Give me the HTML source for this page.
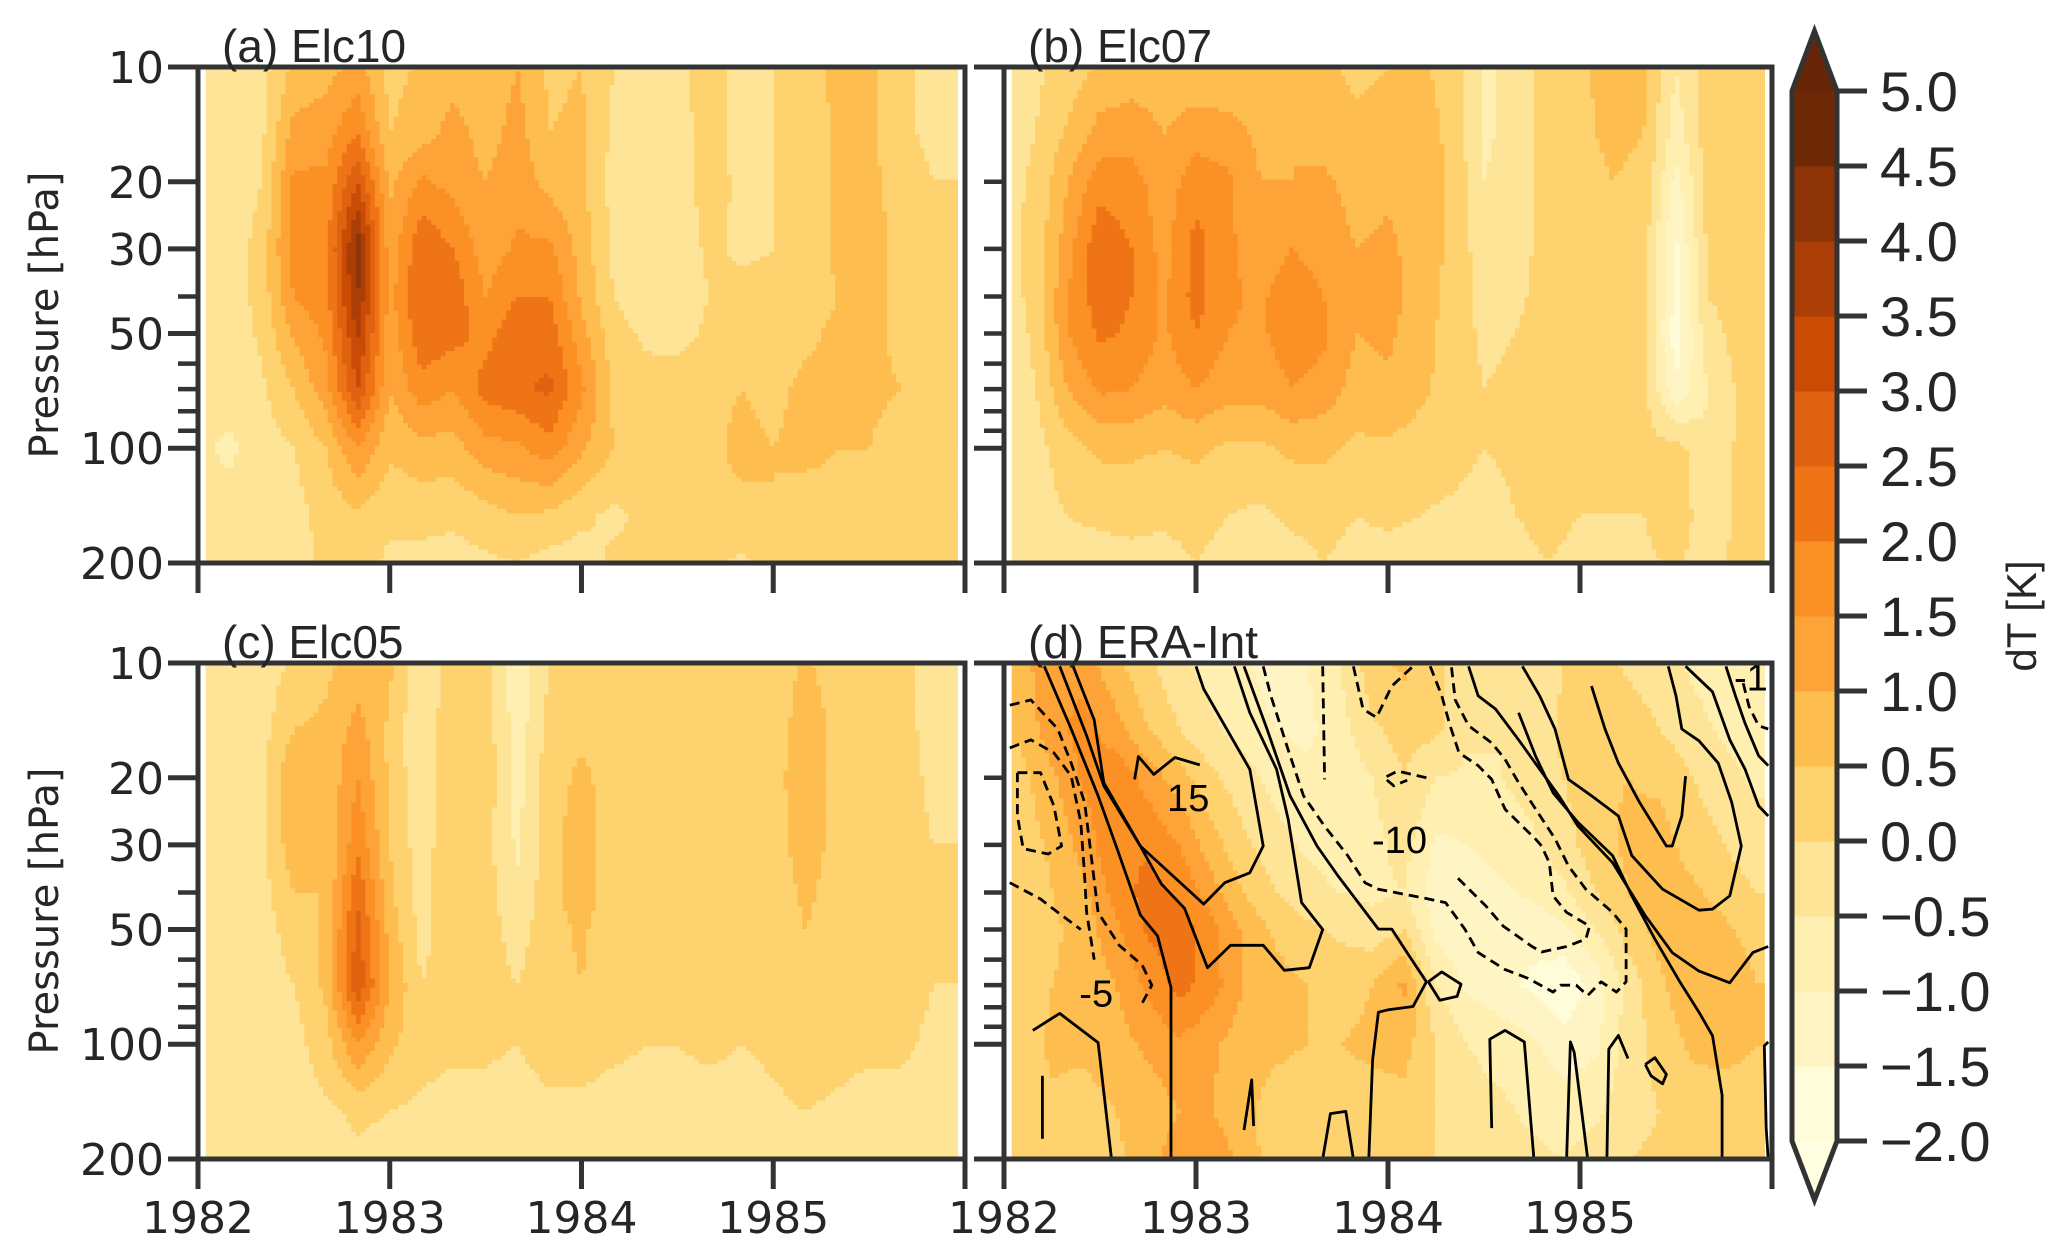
<!DOCTYPE html>
<html><head><meta charset="utf-8">
<style>
html,body{margin:0;padding:0;background:#fff;}
svg{display:block;}
text{fill:#262626;}
</style></head>
<body>
<svg id="fig" width="2068" height="1255" viewBox="0 0 2068 1255" xmlns="http://www.w3.org/2000/svg">
<defs>
<clipPath id="clip-a"><rect x="198" y="67" width="767" height="496"/></clipPath>
<clipPath id="clip-b"><rect x="1004" y="67" width="768" height="496"/></clipPath>
<clipPath id="clip-c"><rect x="198" y="663" width="767" height="496"/></clipPath>
<clipPath id="clip-d"><rect x="1004" y="663" width="768" height="496"/></clipPath>
</defs>
<g id="layer-fill"></g>
<g id="layer-lines"></g>
<g id="layer-axes"></g>
<g id="layer-cbar"></g>
</svg>
<script>
// ---- data ----
const levels = [10, 15, 20, 30, 40, 50, 70, 100, 150, 200];
const yearTicks = [1982, 1983, 1984, 1985, 1986];
const yearLabels = ["1982", "1983", "1984", "1985", ""];
const pMajorLabeled = [10, 20, 30, 50, 100, 200];
const pMinorLabeled = [40, 60, 70, 80, 90];
const pMajorPlain = [10, 100, 200];
const pMinorPlain = [20, 30, 40, 50, 60, 70, 80, 90];
const cbarTicks = [-2.0, -1.5, -1.0, -0.5, 0.0, 0.5, 1.0, 1.5, 2.0, 2.5, 3.0, 3.5, 4.0, 4.5, 5.0];
const cbarColors = ["#fffee0","#fffcd9","#fff5c4","#ffefb1","#fee497","#fed26f","#febd4f","#fda337","#fb9025","#ee7416","#de620f","#c94b04","#ab3e06","#8c3406","#6d2806","#662506"];

const dataA = [
[-.3,-.3,-.2,0.6,0.8,1.2,0.3,0.6,0.8,0.6,1.0,0.4,0.5,0,-.2,-.1,0.2,-.2,0,0.3,0.6,0.6,0.1,-.1],
[-.3,-.3,-.1,1.2,1.3,2.0,0.5,0.8,1.2,0.8,1.2,0.5,0.6,-.1,-.3,-.2,0.2,-.2,0,0.2,0.6,0.6,0.1,-.1],
[-.3,-.3,0,1.6,1.6,3.0,0.9,1.6,1.3,1.0,1.3,0.8,0.6,-.2,-.3,-.2,0.2,-.1,0,0.2,0.6,0.7,0.2,0],
[-.3,-.3,0.2,1.8,1.8,4.3,1.2,2.4,2.0,1.2,1.6,1.6,0.8,-.1,-.3,-.3,0.1,-.1,0,0.2,0.6,0.8,0.3,0.1],
[-.3,-.3,0.2,1.5,1.8,4.0,1.3,2.5,2.3,1.5,2.0,2.0,0.9,0,-.3,-.3,0,0.2,0.1,0.2,0.5,0.7,0.3,0.1],
[-.3,-.3,0.1,1.1,1.6,3.6,1.2,2.4,2.2,1.8,2.4,2.3,1.2,0.2,-.1,-.2,0.1,0.3,0.2,0.4,0.6,0.6,0.4,0.2],
[-.3,-.3,-.1,0.5,1.3,3.0,1.0,1.8,1.5,2.2,2.4,2.6,1.6,0.4,0.2,0.3,0.4,0.5,0.4,0.6,0.6,0.6,0.5,0.2],
[-.4,-.6,-.2,0,0.5,1.5,0.6,0.8,0.8,1.3,1.4,1.8,1.1,0.5,0.3,0.3,0.4,0.6,0.5,0.6,0.5,0.5,0.3,0.1],
[-.3,-.3,-.2,-.2,0.2,0.4,0.1,0.2,0.1,0.3,0.5,0.4,0.1,-.1,0.1,0.2,0.4,0.4,0.5,0.3,0.4,0.3,0.2,0],
[-.3,-.3,-.2,-.2,0.1,0.2,-.1,-.2,-.2,-.1,0,-.2,-.2,0.1,0.1,0.1,0.1,-.1,0.2,0.2,0.3,0.3,0,0]
];
const dataB = [
[-.2,-.1,0.2,0.6,0.7,0.7,0.6,0.6,0.7,0.8,0.6,0.4,0.5,0.6,0.3,-.6,-.3,0.2,0.4,0.7,0.6,-.5,0.3,0.2],
[-.2,0,0.6,1.2,1.3,1.0,1.3,1.2,0.9,1.0,0.8,0.6,0.7,0.7,0.4,-.6,-.3,0.2,0.4,0.6,0.5,-.8,0.3,0.2],
[-.2,0.1,1.0,1.8,1.7,1.2,1.8,1.6,1.0,1.0,1.1,0.8,0.9,0.8,0.4,-.5,-.3,0.2,0.3,0.5,0.4,-1.2,0.2,0.2],
[-.2,0.2,1.3,2.4,2.0,1.3,2.2,1.6,1.2,1.5,1.3,1.0,1.1,0.8,0.4,-.3,-.2,0.2,0.3,0.4,0.2,-1.6,0.1,0.2],
[-.3,0.2,1.5,2.3,2.0,1.4,2.2,1.6,1.4,1.8,1.5,1.0,1.2,0.8,0.3,-.2,-.1,0.2,0.2,0.3,0.1,-1.6,0,0.2],
[-.3,0.1,1.5,2.1,1.9,1.4,2.0,1.5,1.4,1.8,1.6,1.0,1.1,0.7,0.3,-.1,0,0.2,0.2,0.3,0.1,-1.8,-.2,0.2],
[-.3,0,1.0,1.6,1.5,1.2,1.5,1.2,1.2,1.5,1.3,0.8,0.9,0.6,0.3,0,0.1,0.3,0.2,0.3,0.2,-1.4,-.5,0.1],
[-.3,-.2,0.3,0.6,0.6,0.5,0.6,0.4,0.4,0.6,0.6,0.4,0.4,0.3,0.2,0,0.1,0.3,0.1,0.2,0.1,0.2,-.4,0.1],
[-.3,-.2,0,0.1,0.1,0.1,0.2,0,-.1,0.1,0.2,0,0.1,0,-.1,-.2,0,0.2,0,0,0,0.3,-.3,0.1],
[-.3,-.3,-.2,-.2,-.1,-.2,0,-.2,-.3,-.2,0,-.2,-.2,-.3,-.2,-.3,-.2,0,-.2,-.2,-.1,0.1,-.3,0.2]
];
const dataC = [
[-.3,-.3,-.3,0.1,0.4,0.7,0.6,-.4,0.3,0.2,-.8,0,0.4,0.3,0,0.3,0.2,0,0.1,0.6,0.2,0.2,0.1,-.1],
[-.3,-.3,-.2,0.5,0.6,1.2,0.4,-.5,0.5,0.3,-.8,0.2,0.4,0.3,0,0.3,0.2,0,0.1,0.9,0.3,0.2,0.1,-.1],
[-.3,-.3,-.1,1.0,0.6,1.5,0.4,-.4,0.5,0.3,-.7,0.3,0.6,0.3,0.1,0.3,0.2,0,0.2,1.0,0.3,0.3,0.2,-.1],
[-.3,-.3,-.1,0.8,0.5,1.9,0.5,-.3,0.5,0.2,-.6,0.3,0.8,0.2,0.1,0.3,0.3,0.1,0.2,0.8,0.3,0.3,0.2,0],
[-.3,-.3,-.2,0.5,0.5,2.4,0.6,-.2,0.5,0.2,-.4,0.3,0.8,0.2,0.1,0.2,0.3,0.1,0.2,0.6,0.3,0.3,0.3,0],
[-.3,-.3,-.2,0.2,0.6,2.7,0.8,-.2,0.4,0.2,-.2,0.3,0.6,0.1,0.1,0.1,0.3,0.1,0.2,0.5,0.3,0.3,0.3,0],
[-.3,-.3,-.2,0,0.6,2.9,1.0,0,0.3,0.2,0,0.3,0.5,0.1,0.1,0.1,0.2,0.1,0.2,0.5,0.4,0.3,0.2,0],
[-.3,-.3,-.3,-.2,0.3,1.5,0.6,0.2,0.1,0.1,0,0.2,0.2,0.1,0,0,0.1,0,0.1,0.3,0.2,0.1,0.1,-.1],
[-.3,-.3,-.3,-.3,-.1,0.1,0,-.1,-.2,-.2,-.2,-.1,-.1,-.2,-.2,-.2,-.2,-.2,-.1,0,-.1,-.2,-.2,-.2],
[-.3,-.3,-.3,-.3,-.2,-.1,-.2,-.3,-.3,-.3,-.3,-.2,-.2,-.3,-.3,-.3,-.3,-.3,-.2,-.2,-.3,-.3,-.3,-.3]
];
const dataD = [
[0.7,1.5,1.3,0.6,0.1,-.4,-.7,-.9,-1.3,-1.0,-.5,0.3,0.6,0.1,-.3,-.5,-.3,0,0.2,-.1,-.3,-.6,-.8,-.9],
[0.6,1.3,1.7,1.2,0.5,0,-.4,-.7,-1.0,-1.1,-.7,-.1,0.2,0.1,-.4,-.5,-.3,0.1,0.3,0.3,0,-.3,-.6,-.8],
[0.3,0.9,1.6,1.9,1.3,0.7,0.1,-.3,-.7,-.9,-.9,-.5,0,-.5,-.6,-.5,-.3,0,0.4,0.5,0.4,0,-.3,-.6],
[0.2,0.6,1.2,2.0,1.9,1.5,0.7,0.1,-.3,-.6,-.8,-.7,-.3,-1.1,-1.0,-.8,-.6,-.2,0.3,0.6,0.7,0.3,0,-.3],
[0.1,0.5,0.9,1.7,2.2,1.9,1.2,0.5,0,-.3,-.5,-.6,-.5,-1.3,-1.3,-1.1,-.9,-.6,0,0.5,0.8,0.6,0.3,0],
[0.1,0.4,0.7,1.4,2.1,2.3,1.7,0.9,0.4,0.1,-.1,-.3,0,-1.1,-1.5,-1.5,-1.3,-1.1,-.5,0.2,0.7,0.9,0.6,0.3],
[0.2,0.5,0.7,1.0,1.6,2.2,1.7,1.0,0.7,0.5,0.3,0.5,1.1,-.5,-1.1,-1.3,-1.6,-1.9,-1.3,-.3,0.4,0.9,1.0,0.5],
[0.2,0.6,0.6,0.8,1.1,1.4,1.1,0.7,0.6,0.5,0.5,0.6,0.7,0,-.5,-.7,-.9,-1.3,-1.1,-.3,0.2,0.6,0.7,0.5],
[0.1,0.4,0.3,0.5,0.7,1.0,1.0,0.6,0.3,0.2,0.3,0.3,0.3,0,-.3,-.4,-.6,-.7,-.6,-.2,0,0.2,0.2,0.2],
[0.1,0.4,0.2,0.4,0.8,1.3,1.5,0.7,0.3,0.2,0.2,0.2,0.3,0,-.3,-.3,-.4,-.5,-.3,0,0.1,0.2,0.2,0.3]
];

// ERA-Int wind contours: [years since 1982, hPa]
const solidLines = [
[[.21,10.2],[.35,14.9],[.49,22.3],[.59,30.8],[.71,45.8],[.80,52],[.87,71],[.87,200]],
[[.29,10.2],[.43,15.5],[.52,21],[.71,30.2],[.82,38],[.94,44],[1.06,63],[1.18,55],[1.35,55],[1.46,64],[1.59,63],[1.66,50],[1.55,42.5],[1.48,25.7],[1.42,19.0],[1.28,13.5],[1.20,10.2]],
[[.36,10.2],[.47,14.1],[.52,20.6],[.71,30.2],[1.04,42.9],[1.15,37.7],[1.28,35.5],[1.35,30.2],[1.28,19],[1.04,11.7],[1.0,10.2]],
[[.68,20.2],[.70,17.6],[.78,19.6],[.89,17.7],[1.02,18.5]],
[[1.25,10.2],[1.37,14.9],[1.49,22.3],[1.63,30.2],[1.74,36.2],[1.95,49.9],[2.02,49.9],[2.11,58.6],[2.20,68.6],[2.13,79.6],[2.00,81.2],[1.95,82.4],[1.92,110],[1.90,200]],
[[2.21,68.6],[2.28,64.6],[2.38,69.6],[2.36,74.9],[2.27,76.7],[2.21,68.6]],
[[.15,92],[.29,83],[.49,99],[.56,200]],
[[.20,121],[.20,177]],
[[1.25,168],[1.29,124],[1.30,164]],
[[1.66,200],[1.70,152],[1.78,150],[1.82,200]],
[[2.54,166],[2.53,97],[2.61,92],[2.71,98.6],[2.76,200]],
[[2.93,200],[2.95,98.6],[2.97,105],[3.04,200]],
[[3.14,200],[3.15,103],[3.20,94.8],[3.25,109]],
[[3.34,113],[3.39,108.5],[3.45,120],[3.43,127],[3.37,121],[3.34,113]],
[[3.98,98.6],[3.96,101],[3.97,166],[3.98,200]],
[[2.42,10.2],[2.47,12.2],[2.56,13.2],[2.68,15.9],[2.79,19],[2.89,22.3],[2.99,26.8],[3.17,33.4],[3.34,46],[3.48,57.5],[3.62,64.3],[3.78,69],[3.90,57.5],[3.98,55.4]],
[[2.70,10.2],[2.79,12.2],[2.87,14.9],[2.94,20.2],[3.06,22.3],[3.20,25.2],[3.27,32],[3.43,39.2],[3.62,44.5],[3.69,44.2],[3.78,40.8],[3.84,30.2],[3.79,23.2],[3.72,18.3],[3.62,16],[3.53,14.9],[3.50,12.2],[3.46,10.2]],
[[2.68,13.5],[2.77,17.6],[2.86,21.9],[2.99,26.2],[3.17,32],[3.27,40.8],[3.39,53],[3.52,68.6],[3.62,82.4],[3.69,95],[3.74,136],[3.74,200]],
[[3.06,11.5],[3.13,14.9],[3.20,18.3],[3.31,23.2],[3.45,30.2],[3.48,30.2],[3.53,25.2],[3.55,19.8]],
[[3.55,10.2],[3.69,11.9],[3.78,15.9],[3.86,19],[3.93,23.7],[3.98,25.2]],
[[3.76,10.2],[3.81,12.2],[3.86,14.4],[3.93,17.5],[3.98,18.6]]
];
const dashedLines = [
[[.07,19.4],[.19,19.4],[.26,23.7],[.30,30.2],[.23,31.7],[.10,30.7],[.07,25.2],[.07,19.4]],
[[.03,12.9],[.14,12.5],[.28,14.9],[.35,18.3],[.42,23.2],[.45,30.8],[.49,45.1],[.60,55],[.72,62],[.77,70],[.72,78]],
[[.03,16.7],[.14,15.9],[.26,17.2],[.35,19.8],[.40,26.2],[.42,36.1],[.43,45.1],[.45,52],[.47,60]],
[[.03,37.7],[.19,41.6],[.28,45.1],[.40,50]],
[[1.35,10.2],[1.39,12.2],[1.48,16.9],[1.56,22.3],[1.67,26.8],[1.79,32.0],[1.88,37.7],[1.95,39.2],[2.18,41.3],[2.30,42.5],[2.40,49.9],[2.47,57.5],[2.61,63.7],[2.73,67.2],[2.86,73],[2.90,70],[2.98,70],[3.04,74.5],[3.11,68.6],[3.19,73],[3.24,68.6],[3.24,49.9],[3.17,45.1],[3.03,39.2],[2.94,34.1],[2.87,28.9],[2.77,24.2],[2.68,20.6],[2.61,17.9],[2.54,16.2],[2.42,14.6],[2.35,12.5],[2.33,10.2]],
[[2.22,10.2],[2.28,12.2],[2.32,14.4],[2.37,17.2],[2.47,18.6],[2.54,20.2],[2.61,24.2],[2.68,26.2],[2.77,29],[2.80,30.2],[2.84,33.4],[2.86,40.8],[2.93,45.1],[3.05,49],[3.03,53],[2.93,55.4],[2.80,57.3],[2.75,55.4],[2.60,49],[2.51,43.4],[2.36,36.5]],
[[1.66,10.2],[1.67,20.2]],
[[1.82,10.2],[1.87,13.2],[1.94,13.9],[2.02,11.5],[2.13,10.2]],
[[2.20,20],[2.05,19.2],[1.98,20],[2.03,21],[2.1,20.3]],
[[3.85,11.3],[3.88,13],[3.93,14.6],[3.98,14.9]]
];
const contourLabels = ["15", "-10", "-5", "-1"];
const contourLabelYears = [0.96, 2.06, 0.48, 3.89];
const contourLabelP = [22.6, 29.1, 73.5, 10.9];

// ---- layout ----
const NS = "http://www.w3.org/2000/svg";
const panels = [
  {id:"a", title:"(a) Elc10", x0:198, x1:965, y0:67, y1:563, data:dataA, toff:0, labels:true, xlabels:false},
  {id:"b", title:"(b) Elc07", x0:1004, x1:1772, y0:67, y1:563, data:dataB, toff:0, labels:false, xlabels:false},
  {id:"c", title:"(c) Elc05", x0:198, x1:965, y0:663, y1:1159, data:dataC, toff:0, labels:true, xlabels:true},
  {id:"d", title:"(d) ERA-Int", x0:1004, x1:1772, y0:663, y1:1159, data:dataD, toff:0.5, labels:false, xlabels:true}
];
function el(tag, attrs, parent){ const e=document.createElementNS(NS,tag); for(const k in attrs) e.setAttribute(k,attrs[k]); if(parent) parent.appendChild(e); return e; }
function xs(P,t){ return P.x0 + (P.x1-P.x0)*t/4; }
function ys(P,p){ return P.y0 + (P.y1-P.y0)*Math.log10(p/10)/Math.log10(20); }
function colorFor(v){ let k=Math.floor((v+2)/0.5); k=Math.max(-1,Math.min(14,k)); return cbarColors[k+1]; }
const lpn = levels.map(l=>Math.log10(l));
function sample(P,t,lp){
  const g=P.data, n=g[0].length;
  let fi=t*6 - P.toff; fi=Math.max(0,Math.min(n-1,fi));
  const i0=Math.min(n-2,Math.floor(fi)), fx=fi-i0;
  let j0=0; while(j0<lpn.length-2 && lp>lpn[j0+1]) j0++;
  let fy=(lp-lpn[j0])/(lpn[j0+1]-lpn[j0]); fy=Math.max(0,Math.min(1,fy));
  const a=g[j0][i0]*(1-fx)+g[j0][i0+1]*fx, b=g[j0+1][i0]*(1-fx)+g[j0+1][i0+1]*fx;
  return a*(1-fy)+b*fy;
}

const fillLayer=document.getElementById('layer-fill');
const lineLayer=document.getElementById('layer-lines');
const axLayer=document.getElementById('layer-axes');
const cbLayer=document.getElementById('layer-cbar');

panels.forEach(P=>{
  const g=el('g',{'clip-path':'url(#clip-'+P.id+')'},fillLayer);
  
  
  const nx=160, ny=110, t0=0.04, t1=3.96;
  const lp0=1, lp1=Math.log10(200);
  for(let j=0;j<ny;j++){
    const lpa=lp0+(lp1-lp0)*j/ny, lpb=lp0+(lp1-lp0)*(j+1)/ny, lpm=(lpa+lpb)/2;
    const ya=ys(P,Math.pow(10,lpa)), yb=ys(P,Math.pow(10,lpb));
    let runStart=0, runCol=null;
    for(let i=0;i<=nx;i++){
      let col=null;
      if(i<nx){ const tm=t0+(t1-t0)*(i+0.5)/nx; col=colorFor(sample(P,tm,lpm)); }
      if(col!==runCol){
        if(runCol!==null){
          const xa=xs(P,t0+(t1-t0)*runStart/nx), xb=xs(P,t0+(t1-t0)*i/nx);
          const r=el('rect',{x:xa.toFixed(1),y:ya.toFixed(1),width:(xb-xa+0.6).toFixed(1),height:(yb-ya+0.6).toFixed(1),fill:runCol},g);
          
          
        }
        runStart=i; runCol=col;
      }
    }
  }
});

// contours on panel d
(function(){
  const P=panels[3];
  const g=el('g',{'clip-path':'url(#clip-d)'},lineLayer);
  solidLines.forEach(L=>{
    const pl=el('polyline',{points:L.map(q=>xs(P,q[0]).toFixed(1)+','+ys(P,q[1]).toFixed(1)).join(' '),fill:'none',stroke:'#000','stroke-width':'2.8','stroke-linejoin':'round'},g);
    
    
  });
  dashedLines.forEach(L=>{
    const pl=el('polyline',{points:L.map(q=>xs(P,q[0]).toFixed(1)+','+ys(P,q[1]).toFixed(1)).join(' '),fill:'none',stroke:'#000','stroke-width':'2.8','stroke-linejoin':'round','stroke-dasharray':'10,6'},g);
    
    
  });
  contourLabels.forEach((s,k)=>{
    const t=el('text',{x:xs(P,contourLabelYears[k]).toFixed(1),y:(ys(P,contourLabelP[k])+13).toFixed(1),'text-anchor':'middle','font-family':'"Liberation Sans",sans-serif','font-size':'38',style:'fill:#000;stroke:none'},g);
    t.textContent=s;
    
    
  });
})();

// axes
panels.forEach(P=>{
  const g=el('g',{},axLayer);
  
  
  const frame=el('rect',{x:P.x0,y:P.y0,width:P.x1-P.x0,height:P.y1-P.y0,fill:'none',stroke:'#333','stroke-width':'5'},g);
  
  
  const majors = P.labels ? pMajorLabeled : pMajorPlain;
  const minors = P.labels ? pMinorLabeled : pMinorPlain;
  majors.forEach(p=>{
    const y=ys(P,p);
    const tk=el('line',{x1:P.x0-30,x2:P.x0,y1:y,y2:y,stroke:'#333','stroke-width':'5'},g);
    
    
    if(P.labels){
      const t=el('text',{x:P.x0-34,y:(y+16).toFixed(1),'text-anchor':'end','font-family':'"DejaVu Sans",sans-serif','font-size':'44'},g);
      t.textContent=String(p);
      
      
    }
  });
  minors.forEach(p=>{
    const y=ys(P,p);
    const tk=el('line',{x1:P.x0-20,x2:P.x0,y1:y,y2:y,stroke:'#333','stroke-width':'4.5'},g);
    
    
  });
  yearTicks.forEach((yr,k)=>{
    const x=xs(P,yr-1982);
    const tk=el('line',{x1:x,x2:x,y1:P.y1,y2:P.y1+30,stroke:'#333','stroke-width':'5'},g);
    
    
    if(P.xlabels && yearLabels[k]){
      const t=el('text',{x:x,y:1233,'text-anchor':'middle','font-family':'"DejaVu Sans",sans-serif','font-size':'44'},g);
      t.textContent=yearLabels[k];
      
      
    }
  });
  const tt=el('text',{x:P.x0+24,y:P.y0-5,'font-family':'"Liberation Sans",sans-serif','font-size':'46'},g);
  tt.textContent=P.title;
  
  
  if(P.labels){
    const cy=(P.y0+P.y1)/2;
    const yl=el('text',{x:0,y:0,transform:'translate(58,'+cy+') rotate(-90)','text-anchor':'middle','font-family':'"DejaVu Sans",sans-serif','font-size':'40'},g);
    yl.textContent='Pressure [hPa]';
    
    
  }
});

// colorbar
(function(){
  const cx0=1792, cx1=1837, vTop=5.0, vBot=-2.0, yTop=91, yBot=1141;
  const cy=v=>yBot-(v-vBot)*(yBot-yTop)/(vTop-vBot);
  for(let k=0;k<cbarTicks.length-1;k++){
    const r=el('rect',{x:cx0,y:cy(cbarTicks[k+1]).toFixed(1),width:cx1-cx0,height:(cy(cbarTicks[k])-cy(cbarTicks[k+1])+0.5).toFixed(1),fill:cbarColors[k+1]},cbLayer);
    
    
  }
  const up=el('polygon',{points:cx0+','+yTop+' '+((cx0+cx1)/2)+',31 '+cx1+','+yTop,fill:cbarColors[15]},cbLayer);
  
  
  const dn=el('polygon',{points:cx0+','+yBot+' '+((cx0+cx1)/2)+',1200 '+cx1+','+yBot,fill:cbarColors[0]},cbLayer);
  
  
  const ol=el('polygon',{points:cx0+','+yTop+' '+((cx0+cx1)/2)+',31 '+cx1+','+yTop+' '+cx1+','+yBot+' '+((cx0+cx1)/2)+',1200 '+cx0+','+yBot,fill:'none',stroke:'#333','stroke-width':'5','stroke-linejoin':'miter'},cbLayer);
  
  
  cbarTicks.forEach(v=>{
    const y=cy(v);
    const tk=el('line',{x1:cx1,x2:cx1+30,y1:y,y2:y,stroke:'#333','stroke-width':'5'},cbLayer);
    
    
    const t=el('text',{x:1880,y:(y+20).toFixed(1),'font-family':'"Liberation Sans",sans-serif','font-size':'56'},cbLayer);
    t.textContent=(v<0?'\u2212':'')+Math.abs(v).toFixed(1);
    
    
  });
  const lab=el('text',{x:0,y:0,transform:'translate(2036,616) rotate(-90)','text-anchor':'middle','font-family':'"Liberation Sans",sans-serif','font-size':'42'},cbLayer);
  lab.textContent='dT [K]';
  
  
})();
</script>
</body></html>
